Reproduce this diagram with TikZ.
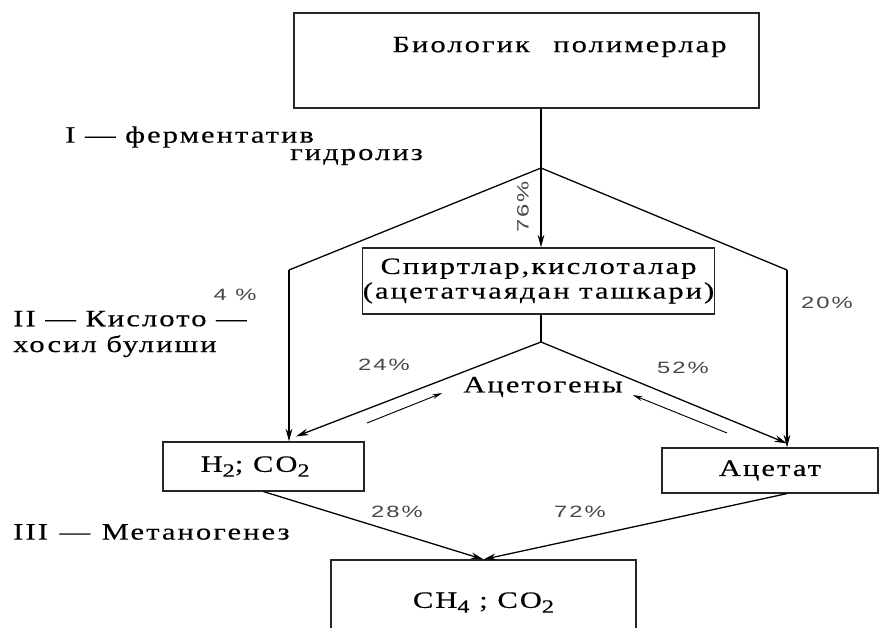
\documentclass[tikz,border=0pt]{standalone}
\usepackage{fontspec}
\setmainfont{Liberation Serif}
\newfontfamily\stagefont[FakeStretch=1.3,LetterSpace=9,FakeBold=0.4]{Liberation Serif}
\newfontfamily\pctfont[FakeStretch=1.45,LetterSpace=12]{Liberation Sans}
\usetikzlibrary{positioning,calc,arrows.meta}

% lowered index digit, nearly full size
\newcommand{\lowidx}[1]{\raisebox{-0.45ex}{\fontsize{16}{16}\selectfont #1}}

\tikzset{
  box/.style={draw=black!85, line width=1pt, inner sep=0pt, align=center,
    font=\stagefont\fontsize{20}{21}\selectfont},
  flow/.style={line width=1.6pt, -{Stealth[length=0.38cm,width=0.2cm]}},
  edge/.style={line width=1.1pt},
  thinflow/.style={line width=0.8pt, -{Stealth[length=0.3cm,width=0.14cm]}},
  pct/.style={font=\pctfont\fontsize{14}{15}\selectfont, text=black!72},
  stage/.style={anchor=west, align=left, inner sep=0pt,
    font=\stagefont\fontsize{20}{22}\selectfont},
}

\begin{document}
\begin{tikzpicture}[x=0.03cm, y=-0.03cm]
    \clip (0,0) rectangle (894,628);
    % Boxes
    \node[box, minimum width=13.95cm, minimum height=2.85cm] (poly) at (526.5,60.5)
        {\raisebox{0.25cm}[0pt][0pt]{\hspace*{1.98cm}Биологик\quad полимерлар}};
    \node[box, minimum width=10.47cm, minimum height=1.98cm] (alco) at (538.5,281)
        {Спиртлар,кислоталар\\(ацетатчаядан ташкари)};
    \node[box, minimum width=6.03cm, minimum height=1.47cm] (hyd) at (263.5,466.5)
        {\hspace*{-0.5cm}H\lowidx{2}; CO\lowidx{2}};
    \node[box, minimum width=6.48cm, minimum height=1.35cm] (acet) at (770,470.5)
        {\raisebox{0.1cm}{Ацетат}};
    \node[box, minimum width=9.15cm, minimum height=2.55cm] (meth) at (483.5,602.5)
        {CH\lowidx{4} ; CO\lowidx{2}};
    \node[font=\stagefont\fontsize{20}{21}\selectfont] (acg) at (543,387) {Ацетогены};
    % Branch points
    \coordinate (top) at (541,168);
    \coordinate (lk) at (289,270);
    \coordinate (rk) at (787,270);
    \coordinate (mid) at (541,342);
    % Hydrolysis split
    \draw[line width=1.6pt] (poly.south -| top) -- (top);
    \draw[flow] (top) -- (alco.north -| top);
    \draw[edge] (top) -- (lk);
    \draw[edge] (top) -- (rk);
    \draw[flow] (lk) -- (lk |- hyd.north);
    \draw[flow] (rk) -- (rk |- acet.north);
    % Acetogens
    \draw[line width=1.6pt] (alco.south -| top) -- (mid);
    \draw[flow, line width=1.1pt] (mid) -- ($(lk |- hyd.north)+(7,-5)$);
    \draw[flow, line width=1.1pt] (mid) -- ($(rk |- acet.north)+(0,-4)$);
    \coordinate (aL) at (367,423);
    \coordinate (aR) at (727,433);
    \draw[thinflow] (aL) -- ($(acg.west)+(-17,6)$);
    \draw[thinflow] (aR) -- ($(acg.east)+(6,8)$);
    % Methanogenesis
    \draw[flow, line width=1.1pt] (hyd.south) -- (meth.north);
    \draw[flow, line width=1.1pt] (rk |- acet.south) -- (meth.north);
    % Percentages
    \node[pct, rotate=90] (p76) at (523,207) {76\%};
    \node[pct] (p4) at (235,295) {4 \%};
    \node[pct] (p20) at (827,303) {20\%};
    \node[pct] (p24) at (384,365) {24\%};
    \node[pct] (p52) at (683,368) {52\%};
    \node[pct] (p28) at (397,512) {28\%};
    \node[pct] (p72) at (580,512) {72\%};
    % Stages
    \node[stage] (st1) at (65,137) {I — ферментатив};
    \node[stage] (st1b) at (290,157) {гидролиз};
    \node[stage] (st2) at (13,334) {II — Кислото —\\хосил булиши};
    \node[stage] (st3) at (13,532) {III\enspace—\enspace Метаногенез};
\end{tikzpicture}
\end{document}
